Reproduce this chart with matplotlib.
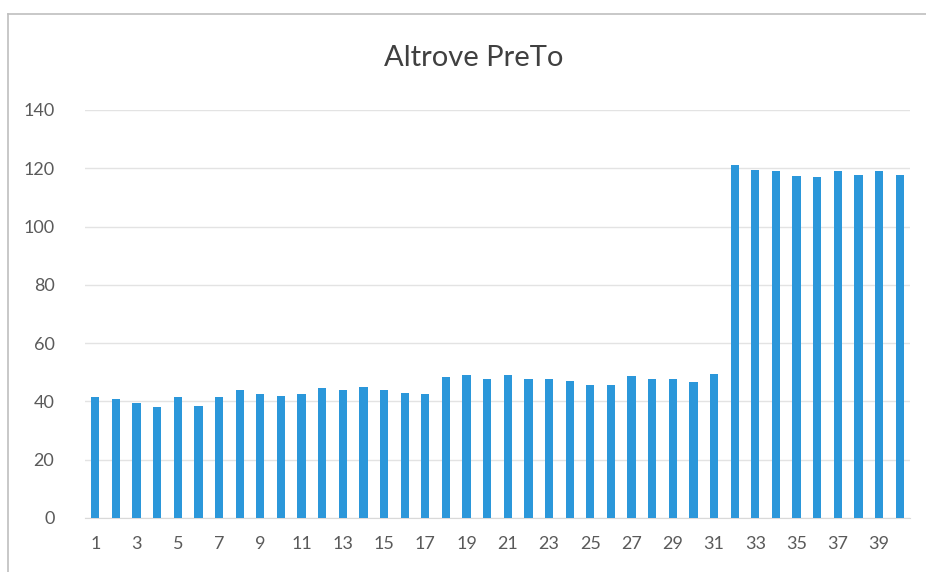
import matplotlib.pyplot as plt
from matplotlib.lines import Line2D

# values
samples = list(range(1, 41))
values = [41.5, 41, 39.5, 38, 41.5, 38.5, 41.5, 44, 42.5, 42,
          42.5, 44.5, 44, 45, 44, 43, 42.5, 48.5, 49, 47.6,
          49, 47.7, 47.7, 46.9, 45.6, 45.5, 48.6, 47.6, 47.6, 46.6,
          49.5, 121, 119.5, 119, 117.5, 117, 119, 117.7, 119, 117.8]
y_ticks = [0, 20, 40, 60, 80, 100, 120, 140]
x_ticks = list(range(1, 41, 2))

bar_color = '#2B97DA'
text_color = '#5A5A5A'

plt.rcParams['font.family'] = ['Lato', 'DejaVu Sans']

fig = plt.figure(figsize=(9.26, 5.72), dpi=100)
ax = fig.add_axes([85 / 926, 1 - 518 / 572, 825 / 926, 408 / 572])

ax.bar(samples, values, width=0.4, color=bar_color, zorder=3)

ax.set_xlim(0.5, 40.5)
ax.set_ylim(0, 140)
ax.set_yticks(y_ticks)
ax.set_xticks(x_ticks)
ax.tick_params(axis='both', length=0, labelsize=13, colors=text_color)
ax.tick_params(axis='x', pad=13)
ax.tick_params(axis='y', pad=22)
ax.grid(axis='y', color='#E3E3E3', linewidth=1, zorder=0)
for s in ['top', 'right', 'left']:
    ax.spines[s].set_visible(False)
ax.spines['bottom'].set_color('#D9D9D9')

fig.text(474 / 926, 1 - 58 / 572, 'Altrove PreTo', ha='center', va='center',
         fontsize=21, color='#404040')

# chart frame, only the top and left edges show in the scan
fx, fy = 8 / 926, 1 - 14 / 572
fig.lines.append(Line2D([fx, 1.0], [fy, fy], transform=fig.transFigure,
                        color='#BFBFBF', linewidth=1.2))
fig.lines.append(Line2D([fx, fx], [0.0, fy], transform=fig.transFigure,
                        color='#BFBFBF', linewidth=1.2))

fig.savefig('out.png', dpi=100)
